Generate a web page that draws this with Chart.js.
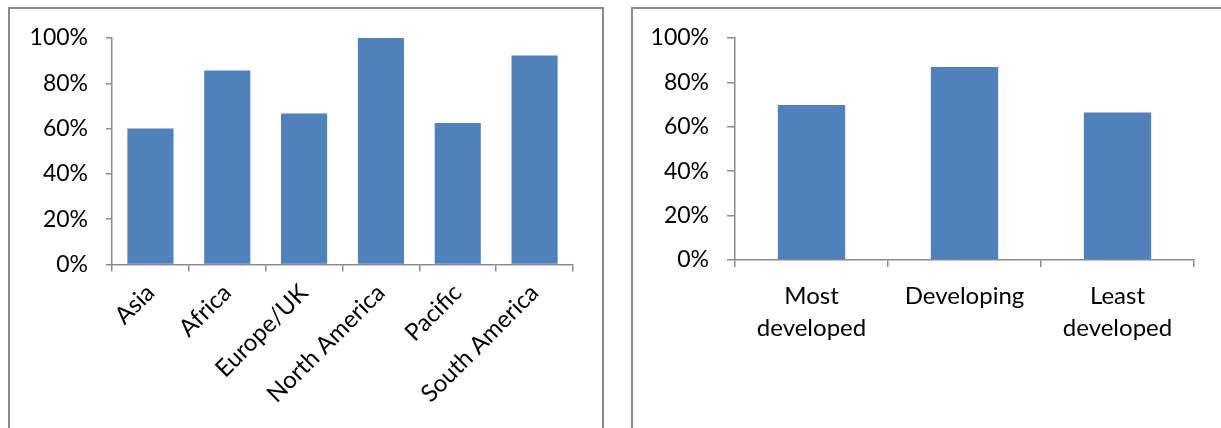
<!DOCTYPE html>
<html>
<head>
<meta charset="utf-8">
<script src="https://cdn.jsdelivr.net/npm/chart.js@4"></script>
<style>
  html, body { margin: 0; padding: 0; background: #fff; }
  body { width: 1221px; height: 428px; position: relative; overflow: hidden; }
  .panel { position: absolute; box-sizing: border-box; border: 2px solid #8c8c8c; background: #fff; }
  canvas { position: absolute; left: 0; top: 0; }
</style>
</head>
<body>
<div class="panel" style="left:8px; top:7px; width:596px; height:460px;"></div>
<div class="panel" style="left:631px; top:7px; width:620px; height:460px;"></div>
<canvas id="c1" width="1221" height="428"></canvas>
<canvas id="c2" width="1221" height="428"></canvas>
<script>
const regionLabels = ['Asia', 'Africa', 'Europe/UK', 'North America', 'Pacific', 'South America'];
const regionValues = [60, 85.7, 66.7, 100, 62.5, 92.3];
const devLabels = [['Most', 'developed'], 'Developing', ['Least', 'developed']];
const devValues = [69.8, 86.9, 66.4];
const yTicks = [0, 20, 40, 60, 80, 100];

const FONT = "Lato, 'Open Sans', sans-serif";
const AXIS = '#8c8c8c';
const BLUE = '#4F81BD';

function makeChart(id, labels, values, cfg) {
  return new Chart(document.getElementById(id), {
    type: 'bar',
    data: {
      labels: labels,
      datasets: [{
        data: values,
        backgroundColor: BLUE,
        borderWidth: 0,
        barPercentage: 1,
        categoryPercentage: cfg.catPct
      }]
    },
    options: {
      responsive: false,
      animation: false,
      events: [],
      layout: { padding: { left: 0, top: cfg.top, right: 1221 - cfg.right, bottom: 0 } },
      plugins: { legend: { display: false }, tooltip: { enabled: false } },
      scales: {
        x: {
          grid: { display: true, drawOnChartArea: false, drawTicks: true, tickLength: 7, color: AXIS, lineWidth: 1.5, offset: true },
          border: { display: true, color: AXIS, width: 1.5 },
          ticks: {
            color: '#000',
            font: { family: FONT, size: 24, lineHeight: 1.33 },
            autoSkip: false,
            minRotation: cfg.rot,
            maxRotation: cfg.rot,
            padding: cfg.xPad
          },
          afterFit: (s) => { s.height = 428 - cfg.bottom; }
        },
        y: {
          min: 0,
          max: 100,
          afterBuildTicks: (s) => { s.ticks = yTicks.map(v => ({ value: v })); },
          grid: { display: true, drawOnChartArea: false, drawTicks: true, tickLength: cfg.yTick, color: AXIS, lineWidth: 1.5 },
          border: { display: true, color: AXIS, width: 1.5 },
          ticks: {
            color: '#000',
            font: { family: FONT, size: 23 },
            padding: 18,
            callback: (v) => v + '%'
          },
          afterFit: (s) => { s.width = cfg.left; }
        }
      }
    }
  });
}

makeChart('c1', regionLabels, regionValues, { left: 112, right: 573, top: 38, bottom: 264.5, catPct: 0.6, rot: 45, xPad: 6, yTick: 6 });
makeChart('c2', devLabels, devValues, { left: 735, right: 1194, top: 38, bottom: 260, catPct: 0.44, rot: 0, xPad: 13, yTick: 8 });
</script>
</body>
</html>
